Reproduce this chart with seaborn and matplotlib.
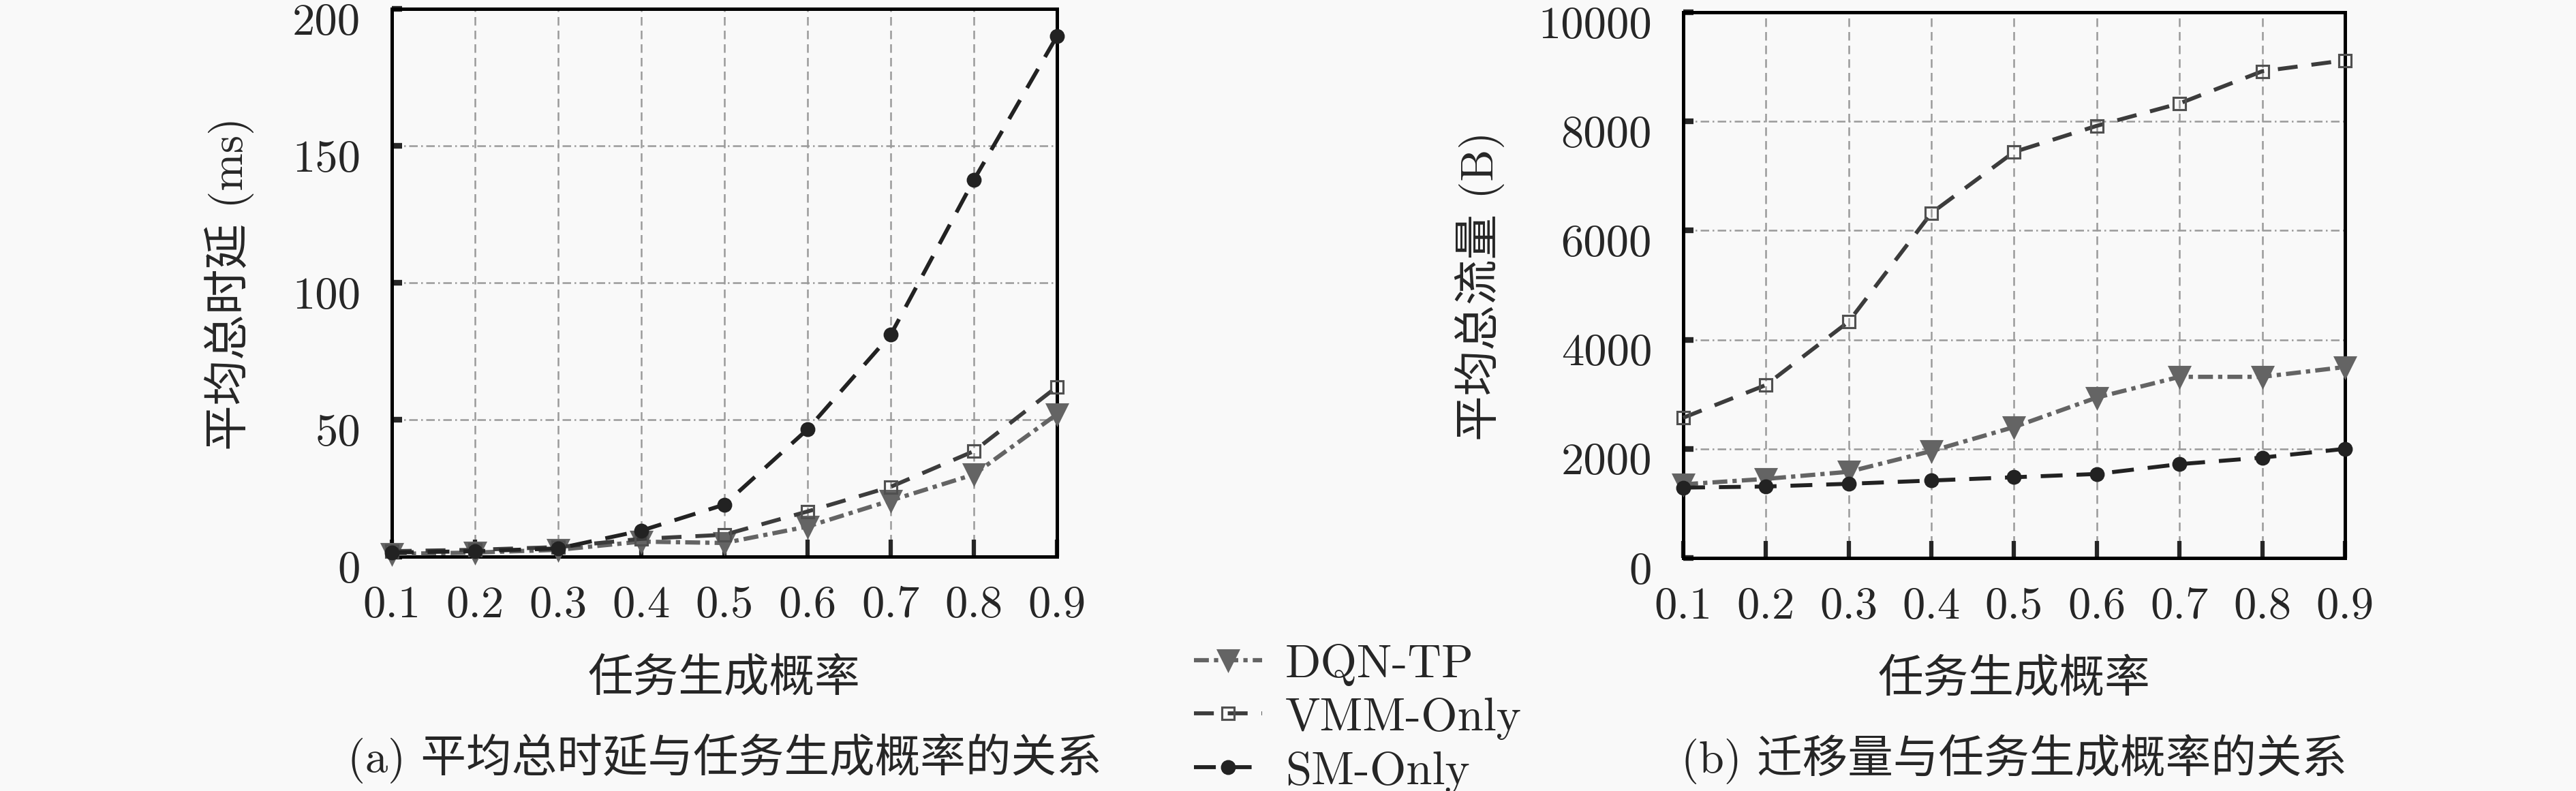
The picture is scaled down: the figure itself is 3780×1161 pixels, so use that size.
import numpy as np
import pandas as pd
import seaborn as sns
import matplotlib.pyplot as plt
from matplotlib.transforms import ScaledTranslation

# 任务生成概率
probs = [0.1, 0.2, 0.3, 0.4, 0.5, 0.6, 0.7, 0.8, 0.9]
prob_labels = ['0.1', '0.2', '0.3', '0.4', '0.5', '0.6', '0.7', '0.8', '0.9']

# (a) 平均总时延 (ms)
delay_dqn = [1.0, 1.5, 2.5, 5.5, 5.0, 11.0, 20.5, 30.0, 52.0]
delay_vmm = [2.0, 2.5, 3.5, 6.5, 8.0, 16.5, 25.5, 38.5, 62.0]
delay_sm = [1.5, 2.0, 3.0, 9.5, 19.0, 46.5, 81.0, 137.5, 190.0]

# (b) 平均总流量 (B)
traffic_dqn = [1350, 1450, 1580, 1960, 2400, 2940, 3320, 3320, 3500]
traffic_vmm = [2570, 3170, 4330, 6320, 7440, 7920, 8330, 8920, 9120]
traffic_sm = [1290, 1310, 1360, 1420, 1480, 1540, 1720, 1840, 2000]

methods = ['DQN-TP', 'VMM-Only', 'SM-Only']

sns.set_style('ticks')
plt.rcParams['font.family'] = ['cmr10', 'Noto Sans CJK SC']
plt.rcParams['axes.unicode_minus'] = False
plt.rcParams['axes.formatter.use_mathtext'] = True

bg = '#f9f9f9'
styles = {
    'DQN-TP': dict(color='#646464', marker='v', markersize=7, linestyle=(0, (3.5, 1.2, 1.0, 1.2)),
                   linewidth=1.5, markerfacecolor='#646464', markeredgecolor='#646464'),
    'VMM-Only': dict(color='#3c3c3c', marker='s', markersize=4.5, linestyle=(0, (5, 3.5)),
                     linewidth=1.4, markerfacecolor='none', markeredgecolor='#505050'),
    'SM-Only': dict(color='#222222', marker='o', markersize=4.5, linestyle=(0, (5.5, 3.5)),
                    linewidth=1.4, markerfacecolor='#222222', markeredgecolor='#222222'),
}

df_delay = pd.DataFrame({'p': probs * 3, 'v': delay_dqn + delay_vmm + delay_sm,
                         'method': sum([[m] * len(probs) for m in methods], [])})
df_traffic = pd.DataFrame({'p': probs * 3, 'v': traffic_dqn + traffic_vmm + traffic_sm,
                           'method': sum([[m] * len(probs) for m in methods], [])})

fig = plt.figure(figsize=(12.6, 3.8733), dpi=300, facecolor=bg)
ax1 = fig.add_axes([0.1521, 0.2960, 0.2582, 0.6919])
ax2 = fig.add_axes([0.6534, 0.2943, 0.2569, 0.6893])


def draw(ax, df, ylim, yticks, ylabel, ylabel_x, caption):
    ax.set_facecolor(bg)
    for m in methods:
        sub = df[df['method'] == m]
        sns.lineplot(x=sub['p'], y=sub['v'], ax=ax, label=m, clip_on=False, zorder=3, **styles[m])
    ax.set_xlim(0.1, 0.9)
    ax.set_ylim(*ylim)
    ax.set_xticks(probs)
    ax.set_xticklabels(prob_labels)
    ax.set_yticks(yticks)
    ax.set_yticklabels([str(t) for t in yticks])
    ax.xaxis.grid(True, linestyle=(0, (5, 3)), color='#9a9a9a', linewidth=0.6)
    ax.yaxis.grid(True, linestyle=(0, (5, 2, 1, 2)), color='#9a9a9a', linewidth=0.6)
    ax.tick_params(axis='y', direction='in', length=3.5, width=2, labelsize=16, pad=11)
    ax.tick_params(axis='x', direction='in', length=6, width=1.5, labelsize=16, pad=10)
    # y 刻度标签略向下偏移
    shift = ScaledTranslation(0, -3.2 / 72, fig.dpi_scale_trans)
    for lbl in ax.get_yticklabels():
        lbl.set_transform(lbl.get_transform() + shift)
    for s in ax.spines.values():
        s.set_linewidth(1.2)
        s.set_color('black')
    ax.set_xlabel('任务生成概率', fontsize=16)
    ax.xaxis.label.set_va('center')
    ax.xaxis.set_label_coords(0.5, -0.2226)
    ax.set_ylabel(ylabel, fontsize=16)
    ax.yaxis.label.set_va('center')
    ax.yaxis.set_label_coords(ylabel_x, 0.5)
    ax.text(0.5, -0.367, caption, transform=ax.transAxes, ha='center', va='center', fontsize=16)
    ax.get_legend().remove()


draw(ax1, df_delay, (0, 200), [0, 50, 100, 150, 200], '平均总时延 (ms)', -0.244,
     '(a) 平均总时延与任务生成概率的关系')
draw(ax2, df_traffic, (0, 10000), [0, 2000, 4000, 6000, 8000, 10000], '平均总流量 (B)', -0.307,
     '(b) 迁移量与任务生成概率的关系')

handles, labels = ax1.get_legend_handles_labels()
fig.legend(handles, labels, loc='upper left', bbox_to_anchor=(0.4635, 0.187), frameon=False,
           fontsize=16.5, handlelength=1.45, handletextpad=0.5, labelspacing=0.25,
           borderpad=0, borderaxespad=0)

plt.savefig('out.png', dpi=300, facecolor=bg)
